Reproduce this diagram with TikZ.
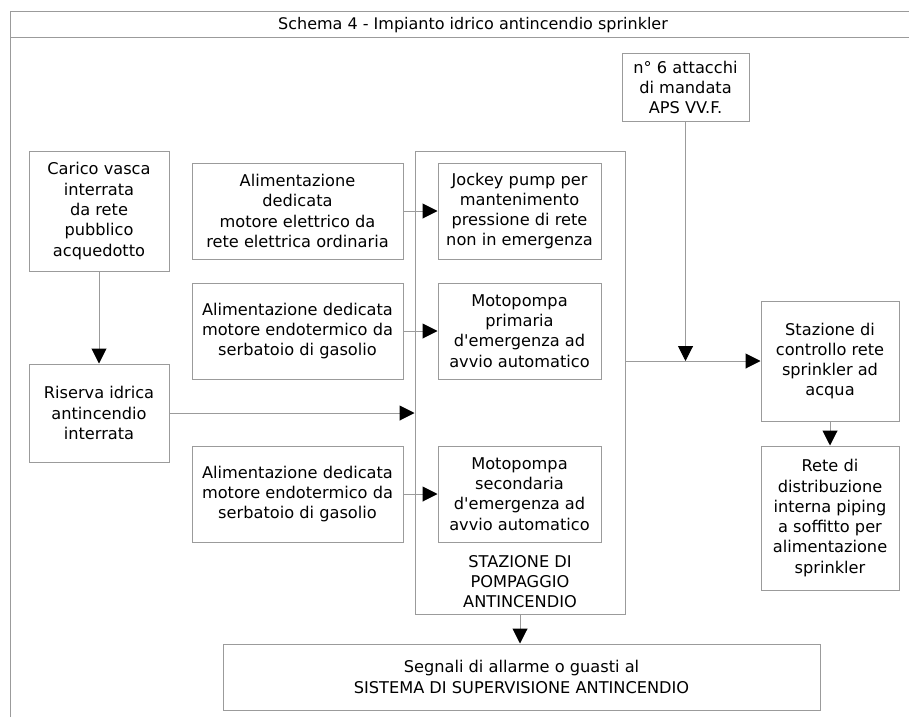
\documentclass[tikz,border=0pt]{standalone}
\usepackage{fontspec}
\setmainfont{DejaVu Sans}
\usetikzlibrary{arrows.meta}
\definecolor{linegray}{RGB}{155,155,155}
\newcommand{\apo}{\textquotesingle}
\begin{document}
\begin{tikzpicture}[x=1pt,y=-1pt,
 every edge/.style = {draw=linegray,line width=1pt,-{Triangle[length=15pt,width=15pt,color=black]}},
 blk/.style args = {#1/#2}{rectangle, draw=linegray, line width=1pt, minimum width=#1, minimum height=#2,
   inner sep=0pt, align=center, font=\fontsize{16.2}{20.3}\selectfont}]

\useasboundingbox (0,0) rectangle (909,717);
% frame and title
\draw[linegray,line width=1pt] (10,717) -- (10,12) -- (909,12);
\draw[linegray,line width=1pt] (10,38) -- (909,38);
\node(title) [font=\fontsize{16}{18}\selectfont] at (473,25) {Schema 4 - Impianto idrico antincendio sprinkler};

\node(carico) [blk=140/120] at (99,211) {Carico vasca\\interrata\\da rete\\pubblico\\acquedotto};
\node(riserva) [blk=140/98] at (99,413) {Riserva idrica\\antincendio\\interrata};

\node(alim1) [blk=211/96] at (297.5,211) {Alimentazione\\dedicata\\motore elettrico da\\rete elettrica ordinaria};
\node(alim2) [blk=211/96] at (297.5,331) {Alimentazione dedicata\\motore endotermico da\\serbatoio di gasolio};
\node(alim3) [blk=211/96] at (297.5,494) {Alimentazione dedicata\\motore endotermico da\\serbatoio di gasolio};

\node(stazione) [blk=210/463, label={[anchor=south, align=center, font=\fontsize{16.2}{20.3}\selectfont, yshift=3pt]south:STAZIONE DI\\POMPAGGIO\\ANTINCENDIO}] at (520,382.5) {};

\node(jockey) [blk=163/96] at (519.5,211) {Jockey pump per\\mantenimento\\pressione di rete\\non in emergenza};
\node(primaria) [blk=163/96] at (519.5,331) {Motopompa\\primaria\\d\apo emergenza ad\\avvio automatico};
\node(secondaria) [blk=163/96] at (519.5,494) {Motopompa\\secondaria\\d\apo emergenza ad\\avvio automatico};

\node(attacchi) [blk=127/67] at (685.5,87.5) {n° 6 attacchi\\di mandata\\APS VV.F.};
\coordinate(junc) at (685.5,361);

\node(controllo) [blk=138/120] at (830,361) {Stazione di\\controllo rete\\sprinkler ad\\acqua};
\node(rete) [blk=138/144] at (830,518) {Rete di\\distribuzione\\interna piping\\a soffitto per\\alimentazione\\sprinkler};

\node(segnali) [blk=597/66] at (521.5,677) {Segnali di allarme o guasti al\\SISTEMA DI SUPERVISIONE ANTINCENDIO};
%
\path   (carico) edge (riserva)
        (riserva) edge (riserva -| stazione.west)
        (alim1) edge (jockey)
        (alim2) edge (primaria)
        (alim3) edge (secondaria)
        (attacchi) edge (junc)
        (stazione.east |- controllo) edge (controllo)
        (controllo) edge (rete)
        (stazione) edge (stazione |- segnali.north);

\end{tikzpicture}
\end{document}
